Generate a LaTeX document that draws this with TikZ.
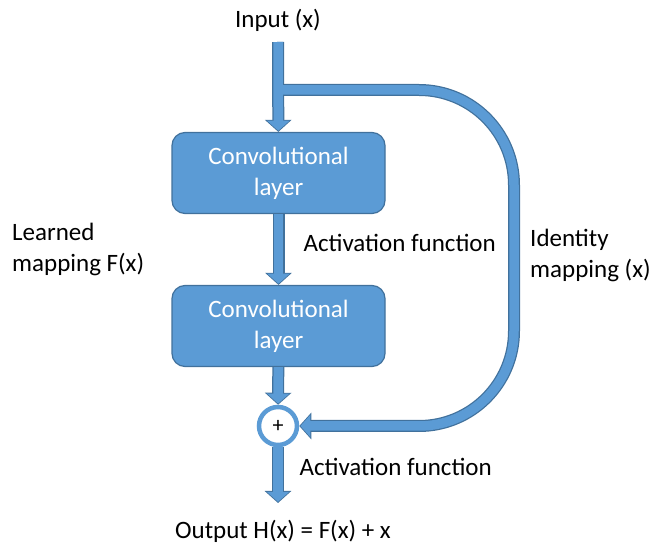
\documentclass[tikz,border=0pt]{standalone}
\usepackage{fontspec}
\setmainfont{Carlito}
\usetikzlibrary{arrows.meta}
\definecolor{boxblue}{HTML}{5B9BD5}
\definecolor{edgeblue}{HTML}{41719C}

\begin{document}
\begin{tikzpicture}[x=1pt,y=-1pt,
    every node/.style={font=\fontsize{25}{31}\selectfont},
    layer/.style={draw=edgeblue,line width=1.2pt,fill=boxblue,text=white,rounded corners=13pt,
      minimum width=213pt,minimum height=81pt,align=center},
    outerarrow/.style={draw=edgeblue,line width=12pt,-{Triangle[length=12pt,width=26pt]}},
    innerarrow/.style={draw=boxblue,line width=9.5pt,-{Triangle[length=10pt,width=22pt]},shorten >=1.2pt}]
  \useasboundingbox (0,0) rectangle (654,545);
  \node[anchor=base] (in) at (278,28) {Input (x)};
  \node[layer] (c1) at (278.5,173) {Convolutional\\layer};
  \node[layer] (c2) at (278.5,326) {Convolutional\\layer};
  \node[circle,draw=boxblue,line width=4.5pt,fill=white,minimum size=38pt,inner sep=0pt,
    font=\fontsize{22}{22}\selectfont] (add) at (278,426) {+};
  \node[anchor=base] (out) at (283,539) {Output H(x) = F(x) + x};
  \node[anchor=base west] (act1) at (300,252) {Activation function};
  \node[anchor=base west] (act2) at (296,476) {Activation function};
  \node[anchor=north west,align=left,inner sep=0pt] (learned) at (12,223) {Learned\\mapping F(x)};
  \node[anchor=north west,align=left,inner sep=0pt] (ident) at (530,229) {Identity\\mapping (x)};
  \coordinate (top) at (278,42);
  \coordinate (split) at (278,90);
  \coordinate (end) at (278,503);
  % outline first, then fill
  \foreach \s in {outerarrow,innerarrow}{
    \draw[\s,rounded corners=95pt] (split) -- (514,90) -- (514,426) -- (add.east);
    \draw[\s] (top) -- (c1);
    \draw[\s] (c1) -- (c2);
    \draw[\s] (c2) -- (add);
    \draw[\s] (add) -- (end);
  }
\end{tikzpicture}
\end{document}
